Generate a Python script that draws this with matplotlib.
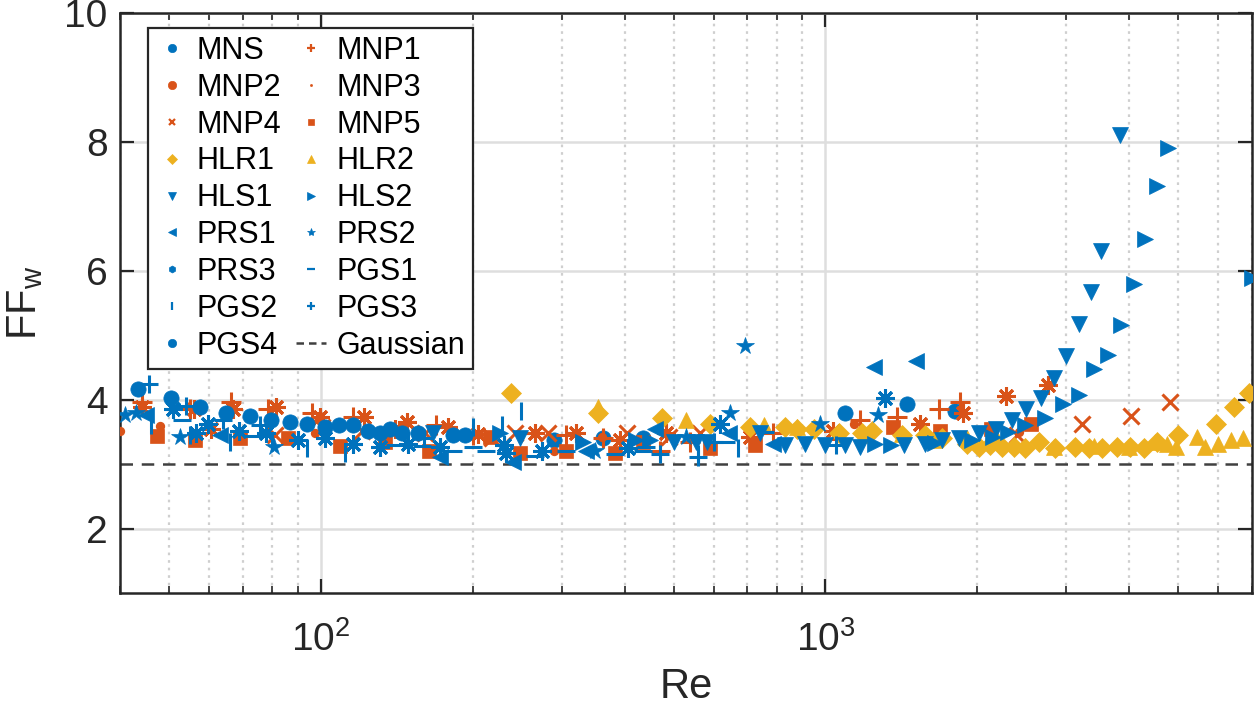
import numpy as np
import matplotlib
matplotlib.use('Agg')
import matplotlib.pyplot as plt
from matplotlib.lines import Line2D
from matplotlib.ticker import LogLocator, NullFormatter, FixedLocator

plt.rcParams['font.family'] = ['Liberation Sans', 'DejaVu Sans']
plt.rcParams['mathtext.fontset'] = 'custom'
plt.rcParams['mathtext.rm'] = 'Liberation Sans'
plt.rcParams['mathtext.it'] = 'Liberation Sans:italic'

BLUE = '#0072BD'
ORANGE = '#D95319'
YELLOW = '#EDB120'

# ---- data: (Re, FF_w) per series ----
mns_x = [290, 362, 434, 1091, 1453, 1806]
mns_y = [3.37, 3.40, 3.40, 3.79, 3.94, 3.83]

mnp1_x = [44.3, 55, 66.3, 78.5, 96, 115.7, 169, 200, 306, 362, 470, 538, 786, 1168, 1385, 1682, 1846]
mnp1_y = [3.96, 3.86, 3.96, 3.86, 3.79, 3.73, 3.60, 3.45, 3.45, 3.40, 3.21, 3.34, 3.49, 3.69, 3.73, 3.86, 3.96]

mnp2_x = [44.3, 56, 60.5, 67, 81.4, 99.5, 121.6, 140, 148, 178.5, 205, 265.8, 320, 391, 482, 708, 1033, 1540, 1870, 2282, 2757]
mnp2_y = [3.88, 3.86, 3.55, 3.86, 3.88, 3.73, 3.73, 3.55, 3.65, 3.57, 3.47, 3.48, 3.48, 3.37, 3.49, 3.42, 3.52, 3.62, 3.79, 4.06, 4.23]

mnp3_x = [40, 48, 97.3, 290, 360, 1137, 2420]
mnp3_y = [3.52, 3.59, 3.48, 3.21, 3.42, 3.63, 3.50]

mnp4_x = [81, 100.5, 120.6, 161, 218, 242, 281.6, 404, 490, 563, 2395, 3226, 4033, 4818]
mnp4_y = [3.45, 3.57, 3.52, 3.49, 3.40, 3.48, 3.49, 3.49, 3.42, 3.49, 3.46, 3.63, 3.74, 3.97]

mnp5_x = [47.3, 56.3, 69, 86, 109, 134, 164, 216, 248, 306, 382, 434, 590, 725, 1360, 1690, 2130, 2558]
mnp5_y = [3.43, 3.37, 3.40, 3.40, 3.28, 3.34, 3.21, 3.42, 3.18, 3.20, 3.17, 3.34, 3.25, 3.29, 3.57, 3.52, 3.55, 3.63]

hlr1_x = [238, 354, 475, 591, 708, 830, 880, 950, 1066, 1180, 1237, 1420, 1577, 1700, 1910, 2012, 2120,
          2240, 2364, 2480, 2650, 2850, 3115, 3334, 3537, 3780, 4015, 4280, 4541, 5000, 5944, 6450, 6920]
hlr1_y = [4.11, 3.80, 3.71, 3.63, 3.57, 3.57, 3.55, 3.55, 3.49, 3.48, 3.52, 3.45, 3.45, 3.40, 3.32, 3.26, 3.29,
          3.26, 3.26, 3.25, 3.34, 3.25, 3.26, 3.25, 3.25, 3.26, 3.26, 3.25, 3.34, 3.46, 3.63, 3.88, 4.10]

hlr2_x = [354, 528, 755, 880, 1200, 1420, 1640, 1910, 2200, 2840, 3400, 4000, 4500, 4760, 4940, 5450, 5640, 6000, 6350, 6730]
hlr2_y = [3.88, 3.69, 3.60, 3.58, 3.45, 3.47, 3.38, 3.40, 3.36, 3.26, 3.28, 3.27, 3.34, 3.32, 3.26, 3.42, 3.26, 3.32, 3.37, 3.40]

hls1_x = [166.5, 248, 502, 554, 583, 742, 833, 910, 1000, 1091, 1172, 1433, 1577, 1705, 1838, 2012, 2181,
          2345, 2500, 2677, 2839, 3001, 3184, 3351, 3509, 3837]
hls1_y = [3.48, 3.40, 3.34, 3.34, 3.35, 3.48, 3.29, 3.32, 3.29, 3.29, 3.26, 3.29, 3.32, 3.37, 3.40, 3.48, 3.55,
          3.68, 3.86, 4.03, 4.33, 4.68, 5.18, 5.67, 6.31, 8.11]

hls2_x = [226, 330, 421, 448, 1255, 1350, 1650, 1950, 2150, 2300, 2480, 2727, 2960, 3184, 3409, 3633,
          3856, 4092, 4300, 4541, 4777, 7000]
hls2_y = [3.49, 3.34, 3.37, 3.37, 3.32, 3.30, 3.33, 3.38, 3.42, 3.50, 3.60, 3.71, 3.94, 4.08, 4.48, 4.70,
          5.16, 5.80, 6.49, 7.31, 7.90, 5.89]

prs1_x = [45, 63, 172, 240, 335, 460, 645, 786, 1250, 1514]
prs1_y = [3.76, 3.45, 3.11, 3.04, 3.21, 3.54, 3.48, 3.32, 4.50, 4.60]

prs2_x = [41, 43, 52.6, 80.8, 349, 528, 648, 692, 974, 1271]
prs2_y = [3.76, 3.79, 3.42, 3.26, 3.21, 3.42, 3.80, 4.84, 3.62, 3.76]

prs3_x = [51, 56.6, 59.7, 68.8, 77.8, 90, 102, 115.7, 131, 148.6, 172, 231, 233, 274, 406, 619, 1315]
prs3_y = [3.86, 3.49, 3.63, 3.52, 3.49, 3.37, 3.40, 3.32, 3.26, 3.32, 3.26, 3.29, 3.17, 3.21, 3.25, 3.63, 4.03]

pgs1_x = [53, 73.3, 140, 159, 182.5, 200, 212, 265.8, 306, 382, 434, 440, 634, 760]
pgs1_y = [3.69, 3.43, 3.29, 3.28, 3.21, 3.26, 3.21, 3.12, 3.21, 3.15, 3.21, 3.27, 3.34, 3.50]

pgs2_x = [46, 55, 66, 80, 94, 111.6, 200, 229, 249, 560, 670]
pgs2_y = [3.60, 3.45, 3.34, 3.35, 3.25, 3.18, 3.57, 3.60, 3.83, 3.15, 3.25]

pgs3_x = [45.6, 54, 64, 75.7, 160, 470, 559, 600, 1050]
pgs3_y = [4.24, 3.91, 3.68, 3.60, 3.40, 3.15, 3.11, 3.35, 3.30]

pgs4_x = [43.5, 50.5, 57.6, 64.8, 72.3, 79.6, 86.8, 94, 102, 108.6, 115.7, 124, 131, 137, 145, 155.6, 182.5, 193]
pgs4_y = [4.17, 4.02, 3.89, 3.80, 3.74, 3.69, 3.66, 3.63, 3.57, 3.60, 3.60, 3.52, 3.49, 3.55, 3.49, 3.49, 3.45, 3.45]

gauss_y = 3.0
x_lim = [40, 7000]

AST = (8, 2, 0)  # MATLAB-like asterisk
# name, x, y, colour, plot marker, size, legend marker, legend size
series = [
    ('MNS',  mns_x,  mns_y,  BLUE,   'o', 11, 'o', 6),
    ('MNP1', mnp1_x, mnp1_y, ORANGE, '+', 14, '+', 6),
    ('MNP2', mnp2_x, mnp2_y, ORANGE, AST, 13, 'o', 6),
    ('MNP3', mnp3_x, mnp3_y, ORANGE, '.', 9,  '.', 3),
    ('MNP4', mnp4_x, mnp4_y, ORANGE, 'x', 11, 'x', 5),
    ('MNP5', mnp5_x, mnp5_y, ORANGE, 's', 10, 's', 5),
    ('HLR1', hlr1_x, hlr1_y, YELLOW, 'D', 10, 'D', 5),
    ('HLR2', hlr2_x, hlr2_y, YELLOW, '^', 12, '^', 6),
    ('HLS1', hls1_x, hls1_y, BLUE,   'v', 12, 'v', 6),
    ('HLS2', hls2_x, hls2_y, BLUE,   '>', 12, '>', 6),
    ('PRS1', prs1_x, prs1_y, BLUE,   '<', 12, '<', 6),
    ('PRS2', prs2_x, prs2_y, BLUE,   '*', 13, '*', 6),
    ('PRS3', prs3_x, prs3_y, BLUE,   AST, 13, 'h', 5),
    ('PGS1', pgs1_x, pgs1_y, BLUE,   '_', 13, '_', 6),
    ('PGS2', pgs2_x, pgs2_y, BLUE,   '|', 13, '|', 6),
    ('PGS3', pgs3_x, pgs3_y, BLUE,   '+', 13, '+', 6),
    ('PGS4', pgs4_x, pgs4_y, BLUE,   'o', 11, 'o', 6),
]

fig = plt.figure(figsize=(12.58, 7.06), dpi=100)
ax = fig.add_axes([0.0954, 0.160, 0.8998, 0.8215])

ax.axhline(gauss_y, color='#404040', ls=(0, (5, 3.5)), lw=1.8, zorder=1)

handles = []
for name, xs, ys, col, mk, ms, lmk, lms in series:
    line_mk = mk in ['+', 'x', '|', '_', '.'] or mk == AST
    ax.plot(xs, ys, ls='none', marker=mk, ms=ms, color=col, mec=col, mfc=col,
            mew=2.2 if line_mk else 0.5, zorder=3)
    handles.append(Line2D([], [], ls='none', marker=lmk, ms=lms, color=col, mec=col, mfc=col,
                          mew=1.6 if lmk in ['+', 'x', '|', '_'] else 0.5, label=name))
handles.append(Line2D([], [], color='#404040', ls=(0, (3, 2)), lw=1.8, label='Gaussian'))

ax.set_xscale('log')
ax.set_xlim(x_lim)
ax.set_ylim(1, 10)
ax.set_yticks([2, 4, 6, 8, 10])
ax.xaxis.set_major_locator(FixedLocator([100, 1000]))
ax.set_xticklabels(['$10^{2}$', '$10^{3}$'])
ax.xaxis.set_minor_locator(LogLocator(base=10, subs=np.arange(2, 10), numticks=20))
ax.xaxis.set_minor_formatter(NullFormatter())

ax.grid(which='major', color='#dedede', lw=1.8, zorder=0)
ax.xaxis.grid(which='minor', color='#cfcfcf', ls=(0, (1.2, 2.2)), lw=1.6)
ax.set_axisbelow(True)

ax.tick_params(which='both', direction='in', top=True, right=True, colors='#262626')
ax.tick_params(which='major', length=10, width=1.6, labelsize=28, pad=9)
ax.tick_params(axis='x', which='major', pad=20)
ax.tick_params(which='minor', length=5, width=1.2)
for sp in ax.spines.values():
    sp.set_linewidth(1.8)
    sp.set_color('#262626')

ax.set_xlabel('Re', fontsize=30, color='#262626', labelpad=6)
ax.set_ylabel('FF$_{\\mathrm{w}}$', fontsize=30, color='#262626', labelpad=14)

# legend: MATLAB fills rows, matplotlib fills columns
order = list(range(0, 18, 2)) + list(range(1, 18, 2))
leg = ax.legend([handles[i] for i in order], [handles[i].get_label() for i in order],
                ncol=2, loc='upper left', bbox_to_anchor=(0.0247, 0.975), borderaxespad=0,
                fontsize=22, frameon=True, fancybox=False, framealpha=1, edgecolor='#262626',
                handlelength=1.0, handletextpad=0.33, columnspacing=0.46, labelspacing=0.225,
                borderpad=0.27)
leg.get_frame().set_linewidth(1.6)

fig.savefig('out.png', dpi=100)
